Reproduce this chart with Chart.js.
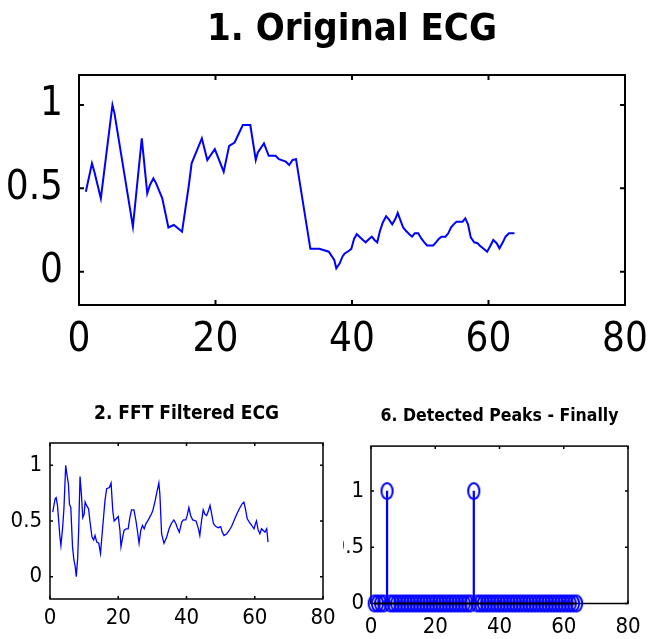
<!DOCTYPE html>
<html>
<head>
<meta charset="utf-8">
<script src="https://cdn.jsdelivr.net/npm/chart.js@4.4.1/dist/chart.umd.min.js"></script>
<style>
  body { margin: 0; background: #fff; width: 649px; height: 639px; overflow: hidden; position: relative; }
  .panel { position: absolute; }
</style>
</head>
<body>
<div class="panel" style="left:0;top:0;width:670px;height:365px"><canvas id="ecg" width="670" height="365"></canvas></div>
<div class="panel" style="left:320px;top:380px;width:339px;height:259px;z-index:1"><canvas id="peaks" width="339" height="259"></canvas></div>
<div class="panel" style="left:0;top:380px;width:343px;height:259px;z-index:2;background:#fff"><canvas id="fft" width="343" height="259"></canvas></div>
<script>
const FONT = "'DejaVu Sans Condensed', 'Liberation Sans Narrow', 'Liberation Sans', sans-serif";
const BLUE = '#0000ff';

const ecgTitle = '1. Original ECG';
const fftTitle = '2. FFT Filtered ECG';
const peakTitle = '6. Detected Peaks - Finally';

const xTicks = [0, 20, 40, 60, 80];
const yTicks = [0, 0.5, 1];

// 1. original ecg (sample index, amplitude)
const ecgX = [1.0, 1.9, 2.25, 3.2, 4.9, 5.2, 7.9, 9.2, 10.0, 10.4, 10.9, 11.3, 12.2, 13.1, 13.9, 15.1, 16.1, 16.5, 18.0, 18.8,
  19.9, 21.2, 22.0, 22.8, 24.0, 25.1, 25.9, 26.2, 27.1, 27.8, 28.8, 29.3, 30.3, 30.8, 31.3, 31.8, 33.9, 35.2, 36.6, 37.4,
  37.7, 38.2, 38.6, 38.9, 39.6, 39.9, 40.3, 40.7, 41.1, 41.6, 42.0, 42.5, 42.9, 43.3, 43.7, 44.1, 44.5, 45.0, 45.4, 45.9,
  46.4, 46.7, 47.1, 47.5, 47.9, 48.4, 48.8, 49.2, 49.7, 50.2, 50.6, 51.0, 51.9, 52.3, 52.7, 53.1, 53.7, 54.1, 54.5, 54.9,
  55.3, 56.2, 56.6, 57.0, 57.4, 57.9, 58.4, 58.7, 59.2, 59.8, 60.3, 60.7, 61.2, 61.6, 62.1, 62.5, 63.0, 63.8];
const ecgY = [0.48, 0.65, 0.60, 0.44, 1.0, 0.95, 0.27, 0.80, 0.47, 0.52, 0.56, 0.53, 0.44, 0.265, 0.28, 0.24, 0.52, 0.65, 0.80, 0.67,
  0.735, 0.60, 0.755, 0.775, 0.88, 0.88, 0.67, 0.715, 0.77, 0.695, 0.695, 0.675, 0.66, 0.64, 0.67, 0.675, 0.137, 0.137, 0.12, 0.07,
  0.02, 0.05, 0.09, 0.108, 0.127, 0.137, 0.196, 0.225, 0.21, 0.19, 0.176, 0.196, 0.21, 0.19, 0.176, 0.245, 0.294, 0.333, 0.314, 0.284,
  0.32, 0.353, 0.308, 0.265, 0.245, 0.225, 0.21, 0.23, 0.23, 0.196, 0.176, 0.157, 0.157, 0.176, 0.196, 0.21, 0.21, 0.23, 0.265, 0.284,
  0.30, 0.30, 0.32, 0.284, 0.206, 0.176, 0.171, 0.157, 0.14, 0.12, 0.157, 0.19, 0.171, 0.14, 0.176, 0.21, 0.23, 0.23];

// 2. fft filtered ecg
const fftX = [0.8, 1.5, 1.8, 2.2, 2.9, 3.2, 3.7, 4.1, 4.6, 4.9, 5.4, 5.7, 6.1, 6.6, 7.0, 7.4, 7.7, 8.1, 8.4, 8.8,
  9.2, 9.6, 10.0, 10.3, 10.7, 11.3, 11.7, 12.3, 12.8, 13.2, 13.7, 14.3, 14.8, 15.4, 16.1, 16.6, 17.4, 17.9, 18.4, 18.8,
  19.4, 20.0, 20.5, 20.8, 21.3, 21.7, 22.3, 22.9, 23.4, 23.9, 24.6, 25.2, 25.6, 26.1, 26.6, 27.1, 27.6, 28.1, 28.8, 29.5,
  30.1, 30.8, 31.4, 31.9, 32.2, 32.7, 33.4, 34.2, 34.9, 35.6, 36.3, 36.9, 37.3, 37.9, 38.6, 39.1, 39.8, 40.2, 40.7, 41.2,
  41.8, 42.8, 43.5, 43.9, 44.4, 44.9, 45.4, 45.9, 46.4, 46.9, 47.4, 47.9, 48.6, 49.3, 50.0, 50.5, 51.0, 51.8, 52.5, 53.2,
  54.0, 54.7, 55.5, 56.2, 56.8, 57.2, 57.8, 58.4, 59.1, 59.8, 60.2, 60.5, 61.0, 61.5, 62.0, 62.5, 63.0, 63.5, 63.9];
const fftY = [0.58, 0.70, 0.71, 0.64, 0.356, 0.28, 0.44, 0.62, 1.0, 0.93, 0.83, 0.65, 0.62, 0.27, 0.15, 0.09, 0.0, 0.16, 0.415, 0.90,
  0.74, 0.53, 0.56, 0.67, 0.64, 0.61, 0.50, 0.356, 0.33, 0.37, 0.31, 0.30, 0.21, 0.43, 0.68, 0.79, 0.80, 0.84, 0.59, 0.50,
  0.52, 0.54, 0.415, 0.27, 0.356, 0.415, 0.43, 0.43, 0.53, 0.60, 0.60, 0.50, 0.415, 0.30, 0.415, 0.46, 0.43, 0.475, 0.51, 0.55,
  0.59, 0.68, 0.77, 0.84, 0.74, 0.386, 0.30, 0.356, 0.43, 0.48, 0.51, 0.475, 0.44, 0.40, 0.49, 0.51, 0.51, 0.55, 0.62, 0.55,
  0.51, 0.50, 0.43, 0.37, 0.50, 0.60, 0.56, 0.55, 0.59, 0.64, 0.56, 0.475, 0.45, 0.44, 0.45, 0.40, 0.37, 0.386, 0.415, 0.45,
  0.51, 0.56, 0.61, 0.65, 0.67, 0.62, 0.52, 0.49, 0.46, 0.43, 0.475, 0.50, 0.42, 0.386, 0.43, 0.415, 0.40, 0.43, 0.31];

// 6. detected peaks (stem plot)
const sampleIdx = [1, 2, 3, 4, 5, 6, 7, 8, 9, 10, 11, 12, 13, 14, 15, 16, 17, 18, 19, 20, 21, 22, 23, 24, 25, 26, 27, 28, 29, 30, 31, 32,
  33, 34, 35, 36, 37, 38, 39, 40, 41, 42, 43, 44, 45, 46, 47, 48, 49, 50, 51, 52, 53, 54, 55, 56, 57, 58, 59, 60, 61, 62, 63, 64];
const peakFlag = [0, 0, 0, 0, 1, 0, 0, 0, 0, 0, 0, 0, 0, 0, 0, 0, 0, 0, 0, 0, 0, 0, 0, 0, 0, 0, 0, 0, 0, 0, 0, 1,
  0, 0, 0, 0, 0, 0, 0, 0, 0, 0, 0, 0, 0, 0, 0, 0, 0, 0, 0, 0, 0, 0, 0, 0, 0, 0, 0, 0, 0, 0, 0, 0];

const pts = (xs, ys) => xs.map((x, i) => ({ x: x, y: ys[i] }));

// matlab style box with inward ticks on all sides
const boxTicks = {
  id: 'boxTicks',
  beforeDatasetsDraw(chart, args, o) {
    const ctx = chart.ctx, a = chart.chartArea;
    const sx = chart.scales.x, sy = chart.scales.y;
    ctx.save();
    ctx.strokeStyle = '#000';
    ctx.lineWidth = o.width;
    ctx.strokeRect(a.left, a.top, a.right - a.left, a.bottom - a.top);
    ctx.beginPath();
    sx.ticks.forEach(t => {
      const p = sx.getPixelForValue(t.value);
      ctx.moveTo(p, a.bottom); ctx.lineTo(p, a.bottom - o.len);
      ctx.moveTo(p, a.top); ctx.lineTo(p, a.top + o.len);
    });
    sy.ticks.forEach(t => {
      const p = sy.getPixelForValue(t.value);
      ctx.moveTo(a.left, p); ctx.lineTo(a.left + o.len, p);
      ctx.moveTo(a.right, p); ctx.lineTo(a.right - o.len, p);
    });
    ctx.stroke();
    ctx.restore();
  }
};

function makeScales(c) {
  return {
    x: {
      type: 'linear', min: 0, max: 80, offset: false,
      afterBuildTicks: s => { s.ticks = xTicks.map(v => ({ value: v })); },
      afterFit: s => { s.height = c.xh; },
      grid: { display: false, drawTicks: false }, border: { display: false },
      ticks: { font: { family: FONT, size: c.fs }, color: '#000', padding: c.xp, maxRotation: 0, autoSkip: false, callback: v => String(v) }
    },
    y: {
      type: 'linear', min: c.ymin, max: c.ymax,
      afterBuildTicks: s => { s.ticks = yTicks.map(v => ({ value: v })); },
      afterFit: s => { s.width = c.yw; },
      grid: { display: false, drawTicks: false }, border: { display: false },
      ticks: { font: { family: FONT, size: c.fs }, color: '#000', padding: c.yp, autoSkip: false, callback: v => String(v) }
    }
  };
}

function makeOptions(c, title) {
  return {
    responsive: false, animation: false,
    layout: { padding: { left: 0, right: c.pr, top: 0, bottom: 0 } },
    scales: makeScales(c),
    plugins: {
      legend: { display: false }, tooltip: { enabled: false },
      title: {
        display: true, fullSize: false, text: title, color: '#000',
        font: { family: FONT, size: c.ts, weight: 'bold' }, padding: { top: c.tt, bottom: c.tb }
      },
      boxTicks: { width: c.bw, len: c.tl }
    }
  };
}

new Chart(document.getElementById('ecg'), {
  type: 'line',
  data: { datasets: [{ data: pts(ecgX, ecgY), borderColor: BLUE, borderWidth: 2, pointRadius: 0, tension: 0 }] },
  options: makeOptions({ xh: 60, fs: 40, xp: 12, ymin: -0.2, ymax: 1.18, yw: 79, yp: 16, pr: 45, ts: 38, tt: 7.2, tb: 22.2, bw: 2, tl: 5 }, ecgTitle),
  plugins: [boxTicks]
});

new Chart(document.getElementById('fft'), {
  type: 'line',
  data: { datasets: [{ data: pts(fftX, fftY), borderColor: BLUE, borderWidth: 1.3, pointRadius: 0, tension: 0 }] },
  options: makeOptions({ xh: 40, fs: 22, xp: 6, ymin: -0.2, ymax: 1.2, yw: 50, yp: 8, pr: 20, ts: 19, tt: 22.6, tb: 17.6, bw: 1.5, tl: 3 }, fftTitle),
  plugins: [boxTicks]
});

// stem marker: matlab's open circle, stretched like the source image
const ring = document.createElement('canvas');
ring.width = 15; ring.height = 20;
const rg = ring.getContext('2d');
rg.strokeStyle = BLUE; rg.lineWidth = 2;
rg.beginPath(); rg.ellipse(7.5, 10, 5.6, 8, 0, 0, Math.PI * 2); rg.stroke();

const stemPts = pts(sampleIdx, peakFlag);
new Chart(document.getElementById('peaks'), {
  type: 'scatter',
  data: {
    datasets: [
      { type: 'line', data: [{ x: sampleIdx[0], y: 0 }, { x: sampleIdx[sampleIdx.length - 1], y: 0 }], borderColor: '#000', borderWidth: 2, pointRadius: 0, order: 0, clip: false },
      { data: stemPts, pointStyle: ring, pointRadius: 6, order: 1, clip: false },
      { type: 'bar', data: stemPts.filter(p => p.y > 0), backgroundColor: BLUE, barThickness: 1.6, order: 2 }
    ]
  },
  options: makeOptions({ xh: 35.5, fs: 22, xp: 11, ymin: 0, ymax: 1.4, yw: 51, yp: 7, pr: 31, ts: 17.5, tt: 25.5, tb: 19.6, bw: 1.5, tl: 3 }, peakTitle),
  plugins: [boxTicks]
});
</script>
</body>
</html>
